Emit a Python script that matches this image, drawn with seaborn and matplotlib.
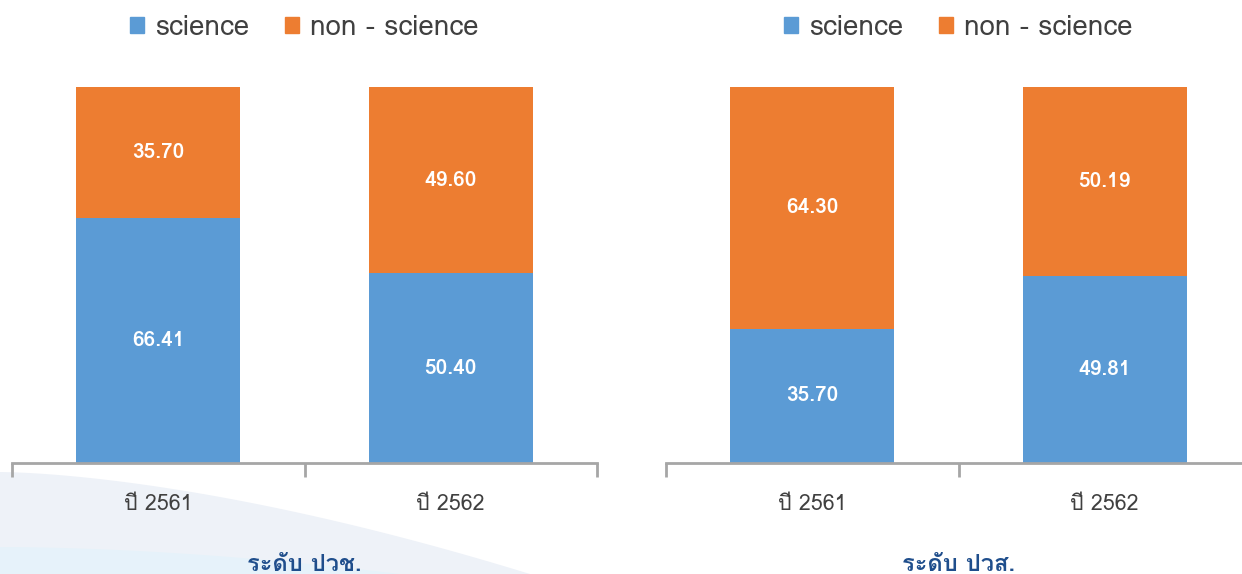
import numpy as np
import pandas as pd
import matplotlib
matplotlib.use("Agg")
import matplotlib.pyplot as plt
import seaborn as sns
from matplotlib import font_manager
from matplotlib.ft2font import FT2Font
from matplotlib.patches import Patch, Polygon

# data
years = ["ปี 2561", "ปี 2562"]
panel_titles = ["ระดับ ปวช.", "ระดับ ปวส."]
science_vc = [66.41, 50.40]
non_science_vc = [35.70, 49.60]
science_hvc = [35.70, 49.81]
non_science_hvc = [64.30, 50.19]

BLUE = "#5B9BD5"
ORANGE = "#ED7D31"


def find_thai_fonts():
    """Return names of installed fonts that have Thai glyphs"""
    names = []
    for f in font_manager.fontManager.ttflist:
        try:
            ft = FT2Font(f.fname)
            if ft.get_char_index(ord("ป")) and ft.get_char_index(ord("ั")):
                if f.name not in names:
                    names.append(f.name)
        except Exception:
            pass
    return names


sns.set_theme(style="white")
thai = find_thai_fonts()
plt.rcParams["font.family"] = thai + ["DejaVu Sans"]

fig = plt.figure(figsize=(12.42, 5.74), dpi=100)

# background swoosh at lower left (decoration only)
W, H = 1242, 574
def px(pts):
    return [(x / W, 1 - y / H) for x, y in pts]

t = np.linspace(0, 1, 40)
outer_edge = [(x, 472 + 102 * (x / 530) ** 1.6) for x in 530 * t]
inner_edge = [(x, 547 + 27 * (x / 400) ** 1.8) for x in 400 * t]
outer = px(outer_edge + [(0, 574)])
inner = px(inner_edge + [(0, 574)])
fig.patches.append(Polygon(outer, closed=True, transform=fig.transFigure,
                           facecolor="#EEF2F8", edgecolor="none", zorder=-2))
fig.patches.append(Polygon(inner, closed=True, transform=fig.transFigure,
                           facecolor="#E6F2FA", edgecolor="none", zorder=-1))

panels = [
    (science_vc, non_science_vc, 12),
    (science_hvc, non_science_hvc, 666),
]

for i, (sci, non, left_px) in enumerate(panels):
    sci = np.array(sci)
    non = np.array(non)
    total = sci + non
    df = pd.DataFrame({
        "year": years,
        "science": sci / total * 100,
        "total": total / total * 100,
    })
    ax = fig.add_axes([left_px / W, 1 - 463 / H, 585 / W, 376 / H])
    ax.set_zorder(1)
    ax.patch.set_alpha(0)
    sns.barplot(data=df, x="year", y="total", color=ORANGE, width=0.56,
                saturation=1, linewidth=0, ax=ax)
    sns.barplot(data=df, x="year", y="science", color=BLUE, width=0.56,
                saturation=1, linewidth=0, ax=ax)
    ax.set_ylim(0, 100)
    ax.set_xlim(-0.5, 1.5)

    # value labels
    for j in range(len(years)):
        s = df["science"].iloc[j]
        ax.text(j, s / 2, f"{sci[j]:.2f}", ha="center", va="center",
                color="white", fontsize=15, fontweight="semibold")
        ax.text(j, s + (100 - s) / 2, f"{non[j]:.2f}", ha="center",
                va="center", color="white", fontsize=15, fontweight="semibold")

    for side in ["left", "right", "top"]:
        ax.spines[side].set_visible(False)
    ax.spines["bottom"].set_color("#A6A6A6")
    ax.spines["bottom"].set_linewidth(2)
    ax.set_yticks([])
    ax.set_xticks([-0.5, 0.5, 1.5])
    ax.set_xticklabels([])
    ax.tick_params(axis="x", length=10, width=2, color="#A6A6A6", bottom=True)
    for j, lab in enumerate(years):
        ax.text(j, -0.11, lab, transform=ax.get_xaxis_transform(), ha="center",
                va="center", fontsize=15.5, color="#404040")
    ax.set_xlabel("")
    ax.set_ylabel("")

    ax.text(0.5, -0.27, panel_titles[i], transform=ax.transAxes, ha="center",
            va="center", fontsize=17, fontweight="bold", color="#1F4E8C")

    handles = [Patch(color=BLUE, label="science"),
               Patch(color=ORANGE, label="non - science")]
    ax.legend(handles=handles, loc="center", ncol=2, frameon=False,
              bbox_to_anchor=(0.5, 1 + (87 - 28) / 376), fontsize=20,
              handlelength=0.5, handleheight=0.5, columnspacing=1.3,
              handletextpad=0.4, labelcolor="#404040")

fig.savefig("out.png", dpi=100)
